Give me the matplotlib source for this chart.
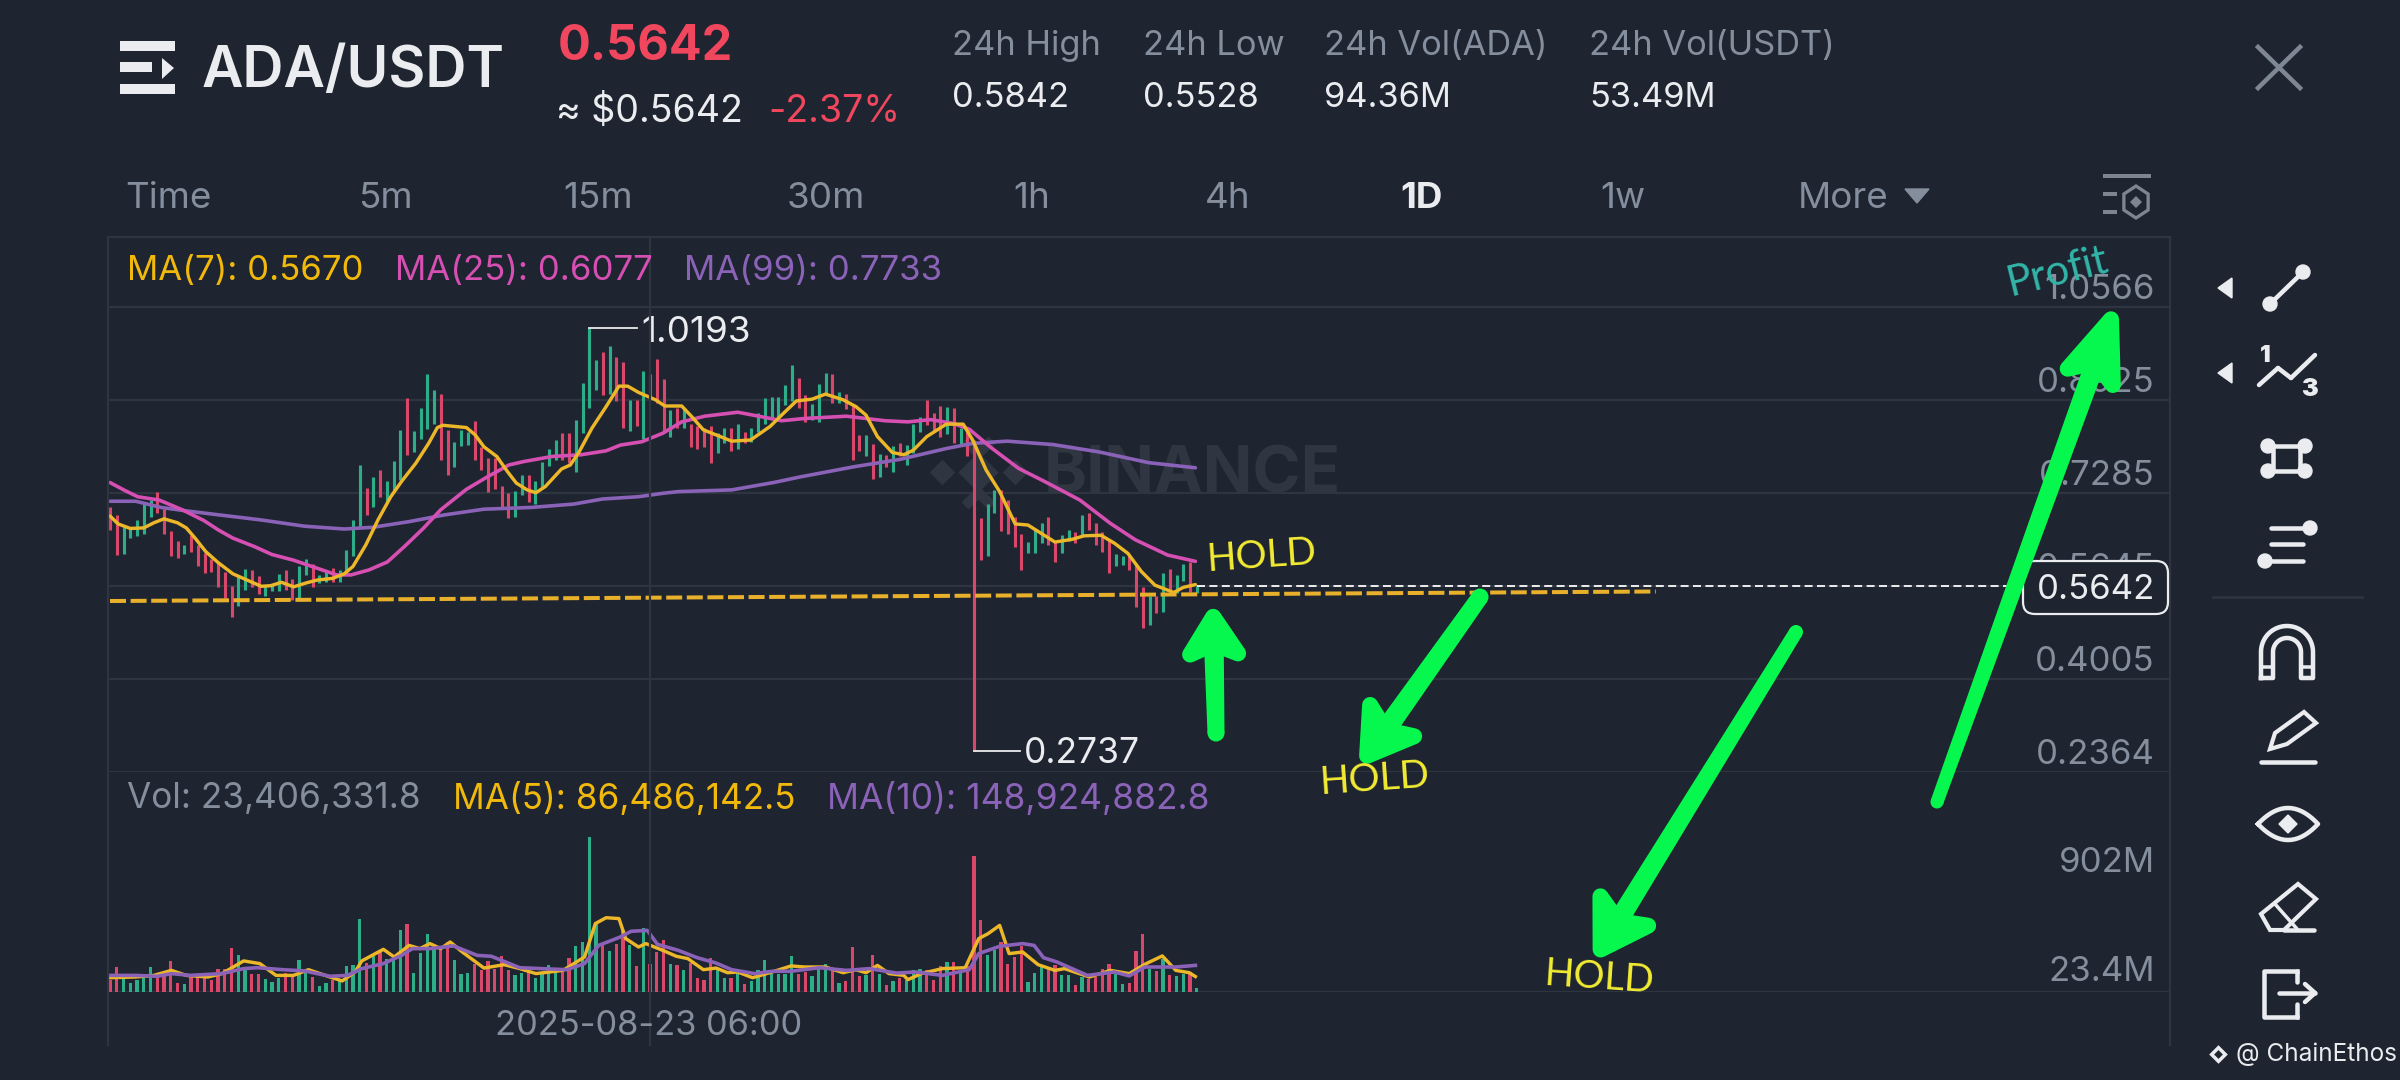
import math
import numpy as np
import matplotlib
matplotlib.use("Agg")
import matplotlib.pyplot as plt
from matplotlib.patches import Polygon, FancyBboxPatch, Circle, Rectangle

plt.rcParams['font.family'] = ['Inter', 'DejaVu Sans']

# ---------- data ----------
candle_high = [0.703,0.690,0.669,0.666,0.681,0.713,0.716,0.731,0.701,0.662,
 0.643,0.637,0.654,0.637,0.622,0.612,0.607,0.589,0.565,0.584,
 0.594,0.592,0.582,0.566,0.566,0.586,0.592,0.576,0.600,0.612,
 0.603,0.584,0.593,0.596,0.593,0.628,0.681,0.778,0.737,0.757,
 0.769,0.749,0.785,0.840,0.896,0.838,0.879,0.938,0.910,0.904,
 0.840,0.819,0.840,0.837,0.856,0.810,0.790,0.790,0.741,0.729,
 0.732,0.760,0.760,0.749,0.784,0.807,0.822,0.835,0.835,0.858,
 0.922,1.0193,0.964,0.978,0.988,0.969,0.960,0.893,0.893,0.943,
 0.938,0.965,0.929,0.875,0.878,0.878,0.851,0.846,0.843,0.846,
 0.835,0.844,0.843,0.850,0.837,0.843,0.869,0.896,0.897,0.898,
 0.919,0.954,0.931,0.901,0.885,0.920,0.940,0.938,0.906,0.903,
 0.882,0.831,0.831,0.815,0.797,0.796,0.812,0.816,0.813,0.851,
 0.862,0.893,0.869,0.882,0.881,0.878,0.843,0.840,0.822,0.684,
 0.709,0.734,0.734,0.716,0.687,0.657,0.642,0.663,0.676,0.686,
 0.643,0.654,0.664,0.659,0.689,0.694,0.675,0.660,0.646,0.621,
 0.617,0.619,0.604,0.563,0.547,0.547,0.587,0.594,0.584,0.604,
 0.607,0.5642]
candle_low = [0.663,0.619,0.621,0.650,0.653,0.657,0.687,0.693,0.657,0.617,
 0.613,0.621,0.625,0.600,0.588,0.590,0.562,0.544,0.510,0.530,
 0.557,0.563,0.550,0.546,0.556,0.556,0.557,0.540,0.540,0.584,
 0.562,0.569,0.572,0.572,0.572,0.586,0.617,0.668,0.690,0.704,
 0.722,0.713,0.734,0.751,0.796,0.801,0.823,0.841,0.851,0.787,
 0.761,0.775,0.812,0.814,0.787,0.769,0.731,0.735,0.703,0.684,
 0.687,0.725,0.713,0.710,0.740,0.777,0.787,0.787,0.781,0.766,
 0.834,0.878,0.910,0.901,0.904,0.890,0.843,0.838,0.847,0.823,
 0.893,0.887,0.834,0.828,0.843,0.843,0.810,0.807,0.810,0.782,
 0.799,0.816,0.803,0.806,0.816,0.819,0.837,0.851,0.860,0.857,
 0.884,0.890,0.878,0.854,0.857,0.854,0.904,0.887,0.887,0.876,
 0.787,0.803,0.793,0.754,0.757,0.775,0.765,0.793,0.778,0.799,
 0.837,0.848,0.840,0.828,0.833,0.816,0.813,0.794,0.2737,0.610,
 0.617,0.693,0.662,0.657,0.634,0.593,0.623,0.622,0.641,0.637,
 0.606,0.623,0.643,0.640,0.654,0.663,0.637,0.625,0.587,0.599,
 0.602,0.593,0.527,0.490,0.496,0.517,0.519,0.554,0.552,0.574,
 0.554,0.552]
candle_up = [0,0,1,1,1,1,1,0,0,0, 0,1,0,0,0,0,0,0,0,1,
 1,0,0,1,1,1,0,0,1,1, 0,1,1,0,1,1,1,1,0,1,
 0,1,1,1,0,1,1,1,1,0, 0,1,1,1,0,0,0,0,0,0,
 1,1,0,1,1,1,1,0,0,1, 1,1,1,0,1,0,0,1,0,1,
 0,0,0,1,0,1,0,0,0,0, 1,1,0,1,0,1,1,1,1,1,
 1,1,0,0,1,1,1,0,1,0, 0,0,1,0,1,0,1,0,1,1,
 1,0,0,0,1,0,1,0,0,0, 1,1,0,0,0,0,1,1,1,0,
 0,1,1,0,1,0,0,0,0,1, 1,0,0,0,1,0,1,0,1,1,
 0,1]
volume_m = [69,140,80,50,69,80,140,106,93,174,
 52,43,93,88,106,65,131,131,246,205,
 125,103,99,75,56,80,106,93,177,106,
 84,34,50,65,65,144,149,407,162,200,
 224,187,181,345,379,106,218,327,243,243,
 280,177,99,108,159,121,174,131,200,125,
 97,106,118,80,103,149,112,131,192,260,
 282,866,383,271,228,267,345,261,144,360,
 155,224,289,155,149,125,162,77,65,192,
 121,80,80,112,43,62,125,181,103,99,
 99,200,103,112,90,136,155,118,50,62,
 252,91,93,205,99,37,60,80,69,121,
 127,125,69,144,166,166,106,144,762,405,
 205,233,280,155,196,256,56,106,144,131,
 149,93,97,37,84,75,84,131,159,103,
 43,50,230,327,131,118,187,93,88,99,
 112,23.4]

ma7_i = [0,1.2,3,5,6.5,8,10,11.3,12.6,14.2,16,18.2,20.3,22.4,23.8,25.4,27.2,29.1,30.7,33,34.7,36,37.9,39.7,41.6,43.2,45.3,47.2,48.5,49.3,52.8,54.1,55.4,57.3,58.9,60.2,61.8,63.1,64.5,66.9,68.2,69.5,71.4,73.5,75.4,76.7,78.3,80.8,82.2,84.7,86.2,87.9,89.8,92.1,94.9,97.8,99.5,101.7,104,106,108.6,110.5,112,113.7,115.9,117.6,119,121,123.9,126.4,127.8,129.8,131.8,134.1,136,138,140,142.6,144.3,146.8,148.8,150.8,152.8,154.8,157.6,159,160.8]
ma7_v = [0.688,0.674,0.666,0.667,0.676,0.683,0.676,0.667,0.649,0.625,0.606,0.586,0.575,0.564,0.565,0.571,0.563,0.570,0.575,0.578,0.586,0.599,0.637,0.681,0.722,0.749,0.781,0.816,0.844,0.848,0.844,0.831,0.810,0.793,0.766,0.746,0.734,0.729,0.740,0.771,0.778,0.801,0.843,0.881,0.917,0.917,0.906,0.893,0.882,0.882,0.863,0.840,0.831,0.820,0.822,0.846,0.866,0.891,0.894,0.903,0.893,0.881,0.866,0.828,0.800,0.796,0.804,0.828,0.850,0.850,0.822,0.769,0.731,0.674,0.672,0.657,0.642,0.647,0.653,0.654,0.640,0.622,0.590,0.566,0.553,0.562,0.567]
ma25_i = [0,2.2,4.1,7.3,10.7,13.9,16.1,18.2,21.4,24,27.2,30.4,33.6,35.7,38.4,41.1,43.7,46.4,49,52.8,55.9,59.1,61.3,65.5,69.8,73.5,75.6,78.8,81.9,84.7,88.1,93,96.1,99.5,102.9,109.1,114.8,118.2,121.6,125,127.3,130.7,134.6,138.6,143.7,148.2,151.9,156.7,160.8]
ma25_v = [0.747,0.733,0.722,0.716,0.699,0.680,0.663,0.649,0.634,0.620,0.610,0.597,0.584,0.584,0.593,0.607,0.635,0.666,0.699,0.735,0.757,0.778,0.784,0.793,0.796,0.803,0.813,0.819,0.834,0.854,0.864,0.871,0.864,0.856,0.860,0.864,0.856,0.854,0.858,0.851,0.841,0.807,0.772,0.748,0.716,0.675,0.646,0.619,0.608]
ma99_i = [0,3.8,7.6,11.3,16.1,22.4,28.8,34.7,38.9,44.3,49.6,55.4,62.3,68.7,73,78.3,81.9,84.2,92.1,98.3,102.3,110.3,117.1,123.9,127.8,132.9,139.7,146.5,153.9,160.8]
ma99_v = [0.714,0.714,0.703,0.697,0.690,0.681,0.670,0.665,0.668,0.678,0.690,0.700,0.703,0.709,0.718,0.722,0.728,0.731,0.734,0.747,0.757,0.775,0.788,0.807,0.816,0.820,0.814,0.801,0.782,0.773]
vma5_i = [0,3.8,6.5,9.1,11.3,14.5,16.6,19.8,22.2,24.6,27.2,29.4,32.6,34.4,36.3,37.3,40.5,42.1,44.3,45.9,47.4,49,50.4,52.2,55.4,58.4,60.7,63.1,67.1,70.3,71.9,73.5,75.4,76.4,78.3,79.4,81.9,83.9,85.6,87.9,89.8,91.5,93,95.2,98.1,100.9,102.9,106,108.6,110.5,112,113.7,115.4,117.6,118.2,120.2,123.3,126.7,128.7,130.1,131.8,133.2,135.2,137.5,140,141.4,145.1,148.2,151,153.3,155.9,157.9,159.9,160.8]
vma5_v = [80,84,93,121,93,84,103,174,159,93,93,125,84,62,112,174,239,196,261,243,271,243,280,224,134,153,131,103,121,196,383,416,411,299,252,271,233,200,187,125,134,108,112,80,112,146,140,140,108,125,108,149,103,93,69,103,131,136,299,327,373,215,224,153,121,131,84,121,103,155,202,121,108,86.5]
vma10_i = [0,3.8,7,9.1,11.8,16.6,19.8,21.9,25.6,28.8,32.6,35.2,37.3,40.5,43.2,44.8,47.4,50.9,54.4,56.5,60.7,67.7,70.3,72.4,75.6,77.2,79.6,81.1,84.2,87,89.8,92.1,95.5,98.1,100.9,105.1,109.1,112.5,116.5,119.3,123.3,127.3,128.7,131.8,135.2,136.9,138.3,140.3,144.8,148.8,151,153.3,157.9,160.8]
vma10_v = [93,93,88,103,93,103,131,136,125,118,88,93,131,159,205,243,243,258,205,200,136,125,159,261,308,340,345,267,233,192,162,125,103,116,116,136,121,131,106,112,93,125,215,256,271,261,192,168,93,112,90,140,140,149]

price_ticks = [1.0566,0.8925,0.7285,0.5645,0.4005,0.2364]
price_labels = ['1.0566','0.8925','0.7285','0.5645','0.4005','0.2364']
hold_level = [0.5380,0.5548]
hold_idx = [0,229]
last_price = 0.5642
period_tabs = ['Time','5m','15m','30m','1h','4h','1D','1w','More']
header_stats = [('24h High','0.5842'),('24h Low','0.5528'),('24h Vol(ADA)','94.36M'),('24h Vol(USDT)','53.49M')]

# ---------- colours ----------
BG='#1E2430'; GRID='#2E3541'; UP='#2EAE88'; DOWN='#D9486A'
YEL='#F0B90B'; YEL2='#EDB72A'; PINK='#D64FB2'; PUR='#8A62B8'
GRAY='#848E9C'; WHITE='#EAECEF'; RED='#F0475E'; ARROW='#06F84E'; HOLD='#F3EC33'
WM='#2F3642'

fig = plt.figure(figsize=(24,10.8), dpi=100, facecolor=BG)
W,H = 2400,1080
def axes_px(l,t,r,b,**k):
    return fig.add_axes([l/W,1-b/H,(r-l)/W,(b-t)/H],**k)

px = 100/72
XLIM = ((108-110)/6.75,(2170-110)/6.75)

# price panel
ap = axes_px(108,237,2170,772,facecolor='none')
ap.set_xlim(*XLIM); ap.set_ylim(0.2364,1.1801)
ap.axis('off')
for t in price_ticks:
    ap.axhline(t,color=GRID,lw=1.6,zorder=1)
ap.axhline(1.1801,color=GRID,lw=1.6,zorder=1,clip_on=False)

# watermark
ap.text(138.3,0.760,'BINANCE',color=WM,fontsize=47,fontweight='bold',va='center',ha='left',zorder=1.5)
for dx,dy,s in [(128.6,0.765,420),(123.2,0.765,170),(134.0,0.765,170),(128.6,0.817,300),(128.6,0.712,300)]:
    ap.scatter([dx],[dy],marker='D',s=s,color=WM,zorder=1.5,linewidths=0)
for dx,dy,s in [(128.6,0.830,120),(128.6,0.699,120)]:
    ap.scatter([dx],[dy],marker='D',s=s,color=BG,zorder=1.6,linewidths=0)

n = len(candle_high)
xs = list(range(n))
cols = [UP if u else DOWN for u in candle_up]
ap.vlines(xs,candle_low,candle_high,colors=cols,lw=3.1/px,capstyle='butt',zorder=2)
ap.plot(ma99_i,ma99_v,color=PUR,lw=3.6/px,zorder=3,solid_capstyle='round')
ap.plot(ma25_i,ma25_v,color=PINK,lw=3.6/px,zorder=3,solid_capstyle='round')
ap.plot(ma7_i,ma7_v,color=YEL2,lw=3.4/px,zorder=4,solid_capstyle='round')
ap.plot(hold_idx,hold_level,color='#E8B02B',lw=4/px,ls=(0,(4,1.15)),zorder=5)
ap.plot([161,281],[last_price,last_price],color='#E8E8E8',lw=2/px,ls=(0,(4,2.2)),zorder=5)
# hi / lo leaders
ap.plot([71,78],[1.0193,1.0193],color=WHITE,lw=1.8/px,zorder=5)
ap.text(78.7,1.011,'1.0193',color=WHITE,fontsize=26.5,va='center',ha='left',zorder=6)
ap.plot([128,134.8],[0.2737,0.2737],color=WHITE,lw=1.8/px,zorder=5)
ap.text(135.4,0.2685,'0.2737',color=WHITE,fontsize=25.5,va='center',ha='left',zorder=6)
for t,l in zip(price_ticks,price_labels):
    ap.annotate(l,xy=(1,t),xycoords=('axes fraction','data'),xytext=(-11,12.5),textcoords='offset points',
                color=GRAY,fontsize=25,ha='right',va='center',zorder=2.5)

# volume panel
av = axes_px(108,780,2170,992,facecolor='none')
av.set_xlim(*XLIM); av.set_ylim(0,1187)
av.axis('off')
av.bar(xs,volume_m,width=0.46,color=cols,zorder=2,linewidth=0)
av.plot(vma5_i,vma5_v,color=YEL2,lw=3.4/px,zorder=3)
av.plot(vma10_i,vma10_v,color=PUR,lw=3.6/px,zorder=4)
av.axhline(0,color=GRID,lw=1.6,zorder=1)

# overlay in pixel coordinates
ui = fig.add_axes([0,0,1,1],facecolor='none')
ui.set_xlim(0,W); ui.set_ylim(H,0); ui.axis('off')
for x in (108,650,2170):
    ui.plot([x,x],[237,1045],color=GRID,lw=1.6,zorder=1)

T = dict(va='center',ha='left')
# menu icon
ui.add_patch(Rectangle((120,41),55,10,color=WHITE,lw=0))
ui.add_patch(Rectangle((120,62),32,10,color=WHITE,lw=0))
ui.add_patch(Rectangle((120,84),55,10,color=WHITE,lw=0))
ui.add_patch(Polygon([[162,58],[174,68],[162,79]],color=WHITE,lw=0))
ui.text(202,72,'ADA/USDT',color=WHITE,fontsize=41,fontweight='semibold',**T)
ui.text(558,47,'0.5642',color=RED,fontsize=35,fontweight='bold',**T)
ui.text(556,112,'≈ $0.5642',color=WHITE,fontsize=27,**T)
ui.text(768,112,'-2.37%',color=RED,fontsize=27,**T)
for (lab,val),x in zip(header_stats,[952,1143,1324,1589]):
    ui.text(x,46,lab,color=GRAY,fontsize=24.8,**T)
    ui.text(x,98,val,color=WHITE,fontsize=24.8,**T)
# close
ui.plot([2258,2300],[47,88],color='#7E8794',lw=4.5/px)
ui.plot([2258,2300],[88,47],color='#7E8794',lw=4.5/px)
# tabs
for lab,x in zip(period_tabs,[125,358,563,787,1013,1205,1400,1600,1798]):
    if lab=='1D':
        ui.text(x,199,lab,color=WHITE,fontsize=26.5,fontweight='bold',**T)
    else:
        ui.text(x,199,lab,color=GRAY,fontsize=26.5,**T)
ui.add_patch(Polygon([[1905,189],[1929,189],[1917,203]],color=GRAY))
# settings icon
SET='#7E8590'
for y,(a,b) in zip([176,194,212],[(2103,2151),(2103,2117),(2103,2117)]):
    ui.plot([a,b],[y,y],color=SET,lw=4/px,solid_capstyle='butt')
hex_a = np.deg2rad(np.arange(-90,270,60))
ui.add_patch(Polygon(np.c_[2136+14*np.cos(hex_a),202+16*np.sin(hex_a)],fill=False,ec=SET,lw=3/px*1.1))
ui.add_patch(Polygon([[2136,196],[2142,202],[2136,208],[2130,202]],color=SET,lw=0))

# legends
ui.text(127,271,'MA(7): 0.5670',color=YEL,fontsize=25,**T)
ui.text(395,271,'MA(25): 0.6077',color=PINK,fontsize=25,**T)
ui.text(684,271,'MA(99): 0.7733',color=PUR,fontsize=25,**T)
ui.text(127,799,'Vol: 23,406,331.8',color=GRAY,fontsize=25.3,**T)
ui.text(453,799,'MA(5): 86,486,142.5',color=YEL,fontsize=25.3,**T)
ui.text(827,799,'MA(10): 148,924,882.8',color=PUR,fontsize=25.5,**T)
ui.text(2155,863,'902M',color=GRAY,fontsize=25,va='center',ha='right')
ui.text(2155,972,'23.4M',color=GRAY,fontsize=25,va='center',ha='right')
ui.text(649,1026,'2025-08-23 06:00',color=GRAY,fontsize=24.8,va='center',ha='center')
# last price tag
ui.add_patch(FancyBboxPatch((2023,561),145,53,boxstyle='round,pad=0,rounding_size=12',fc=BG,ec=WHITE,lw=1.6,zorder=6))
ui.text(2155,590,'0.5642',color=WHITE,fontsize=25,va='center',ha='right',zorder=7)

# green arrows: rounded shaft and chevron head
def arrow(x0,y0,x1,y1,w0=13,w1=17,hl=48,hw=26):
    d = math.hypot(x1-x0,y1-y0); ux,uy=(x1-x0)/d,(y1-y0)/d
    nx,ny = -uy,ux
    ax_,ay_ = x1-ux*hl*0.6,y1-uy*hl*0.6
    ui.add_patch(Polygon([[x0+nx*w0/2,y0+ny*w0/2],[ax_+nx*w1/2,ay_+ny*w1/2],[ax_-nx*w1/2,ay_-ny*w1/2],[x0-nx*w0/2,y0-ny*w0/2]],color=ARROW,lw=0,zorder=8))
    ui.add_patch(Circle((x0,y0),w0/2,color=ARROW,lw=0,zorder=8))
    r = 8
    tx,ty = x1-ux*r*1.1,y1-uy*r*1.1
    bx,by = x1-ux*hl,y1-uy*hl
    nch = (x1-ux*hl*0.78,y1-uy*hl*0.78)
    ui.add_patch(Polygon([[tx,ty],[bx+nx*hw,by+ny*hw],list(nch),[bx-nx*hw,by-ny*hw]],fc=ARROW,ec=ARROW,lw=2*r/px,joinstyle='round',zorder=8))
arrow(1216,733,1213,608,w0=17,w1=20,hl=46,hw=24)
arrow(1480,597,1362,763,w0=17,w1=21,hl=52,hw=27)
arrow(1796,632,1596,957,w0=14,w1=20,hl=54,hw=28)
arrow(1937,802,2114,311,w0=13,w1=20,hl=70,hw=24)

# handwritten labels
hw_ = dict(color=HOLD,fontsize=28,family='Lato',va='center',ha='center',zorder=9)
ui.text(1262,556,'HOLD',rotation=4,**hw_)
ui.text(1375,779,'HOLD',rotation=4,**hw_)
ui.text(1599,978,'HOLD',rotation=-4,**hw_)
ui.text(2057,272,'Profit',color='#33B5A8',fontsize=30,rotation=14,family='Lato',va='center',ha='center',zorder=9)

# toolbar icons
IC = WHITE
def seg(a,b,lw=4):
    ui.plot([a[0],b[0]],[a[1],b[1]],color=IC,lw=lw/px,solid_capstyle='round')
def dot(x,y,r=7):
    ui.add_patch(Circle((x,y),r,color=IC))
for y in (288,373):
    ui.add_patch(Polygon([[2218,y],[2232,y-10],[2232,y+10]],color=IC))
seg((2270,304),(2303,272),4.5); dot(2270,304); dot(2303,272)
seg((2259,385),(2278,368),4.5); seg((2278,368),(2291,378),4.5); seg((2291,378),(2315,355),4.5)
ui.text(2265,356,'1',color=IC,fontsize=17,fontweight='black',va='center',ha='center')
ui.text(2309,390,'3',color=IC,fontsize=18,fontweight='black',va='center',ha='center')
for a,b in [((2268,446),(2305,446)),((2268,471),(2305,471)),((2273,446),(2273,471)),((2300,446),(2300,471))]:
    seg(a,b,4.5)
for x in (2268,2305):
    for y in (446,471): dot(x,y,7)
seg((2271,528),(2305,528),4.5); dot(2310,528,7)
seg((2271,544),(2303,544),4.5)
seg((2268,561),(2303,561),4.5); dot(2265,561,7)
ui.plot([2213,2362],[597,597],color=GRID,lw=1.8)
# magnet
th = np.linspace(np.pi,2*np.pi,40)
mx,my = 2287,652
ui.plot(np.r_[2261,mx+26*np.cos(th),2313,2301,mx+14*np.cos(th[::-1]),2273,2261],
        np.r_[678,my+26*np.sin(th),678,678,my+14*np.sin(th[::-1]),678,678],color=IC,lw=4.5/px)
seg((2261,667),(2273,667),3.5); seg((2301,667),(2313,667),3.5)
# pencil
ui.add_patch(Polygon([[2270,749],[2275,733],[2304,712],[2316,723],[2287,744]],fill=False,ec=IC,lw=3))
seg((2261,762),(2315,762),4.5)
# eye
t = np.linspace(0,1,30)
ui.plot(np.r_[2258+60*t,2318-60*t],np.r_[824-64*t*(1-t),824+64*(1-t)*t],color=IC,lw=4.5/px)
ui.add_patch(Polygon([[2288,815],[2297,824],[2288,833],[2279,824]],color=IC))
# eraser
ui.add_patch(Polygon([[2261,914],[2298,884],[2316,899],[2284,930],[2270,930]],fill=False,ec=IC,lw=3))
seg((2275,904),(2298,930),3.5); seg((2284,930),(2314,930),4.5)
# exit
ui.plot([2297,2264,2264,2297],[971,971,1017,1017],color=IC,lw=4.5/px)
seg((2279,993),(2315,993),4.5); seg((2305,984),(2315,993),4.5); seg((2305,1002),(2315,993),4.5)
seg((2297,971),(2297,982),4.5); seg((2297,1004),(2297,1017),4.5)
# credit
ui.scatter([2218],[1054],marker='D',s=90,color=WHITE,linewidths=0)
ui.scatter([2218],[1054],marker='D',s=20,color=BG,linewidths=0)
ui.text(2236,1054,'@ ChainEthos',color=WHITE,fontsize=17.5,**T)

fig.savefig('out.png',dpi=100,facecolor=BG)
